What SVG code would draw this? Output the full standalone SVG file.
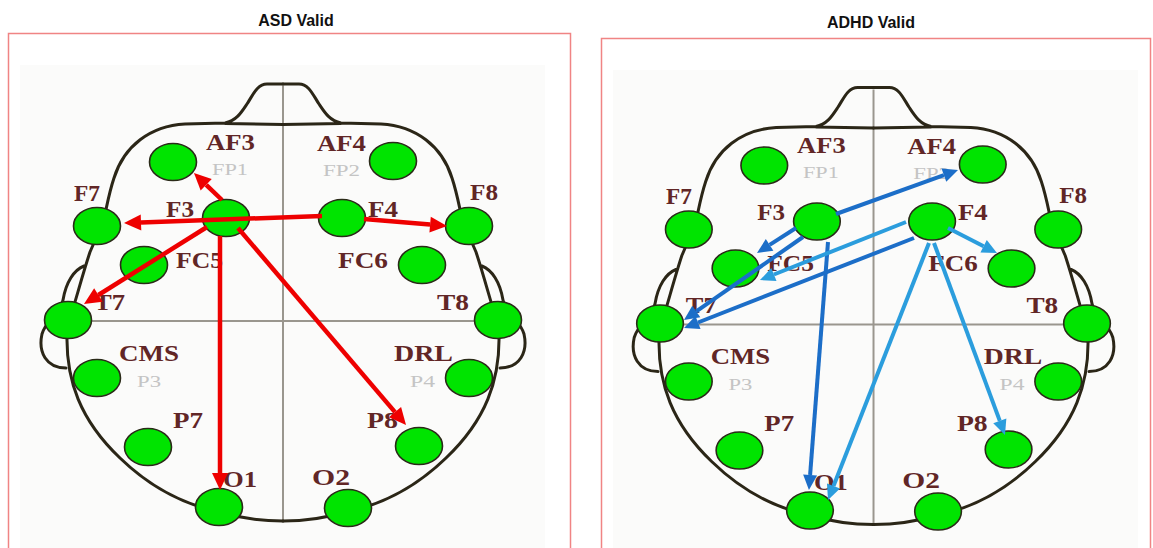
<svg xmlns="http://www.w3.org/2000/svg" xmlns:xlink="http://www.w3.org/1999/xlink" width="1153" height="548" viewBox="0 0 1153 548">
  <style>
    .title { font-family: "Liberation Sans", Arial, sans-serif; font-weight: bold; font-size: 16px; fill: #111; text-anchor: middle; }
    .frame { fill: none; stroke: #f08484; stroke-width: 1.5; }
    .paper { fill: #fbfbfa; }
    .outline { fill: none; stroke: #2b2617; stroke-width: 3; stroke-linejoin: round; stroke-linecap: round; }
    .axis { fill: none; stroke: #9a968e; stroke-width: 2; }
    .electrode { fill: #00e400; stroke: #2a2a18; stroke-width: 1.6; }
    .lbl { font-family: "Liberation Serif", "Times New Roman", serif; font-weight: bold; font-size: 23px; fill: #612626; }
    .alt { font-family: "Liberation Serif", "Times New Roman", serif; font-size: 17px; fill: #c4c4c4; }
    .red { fill: none; stroke: #ee0000; stroke-width: 4.5; }
    .dark { fill: none; stroke: #1c6ec8; stroke-width: 4; }
    .light { fill: none; stroke: #2b9ddd; stroke-width: 4; }
  </style>
  <defs>
    <marker id="head-red" viewBox="0 -9 18 18" refX="0" refY="0" markerWidth="18" markerHeight="18" markerUnits="userSpaceOnUse" orient="auto" overflow="visible">
      <path d="M0,-8 L17,0 L0,8 z" fill="#ee0000"/>
    </marker>
    <marker id="head-dark" viewBox="0 -8 16 16" refX="0" refY="0" markerWidth="16" markerHeight="16" markerUnits="userSpaceOnUse" orient="auto" overflow="visible">
      <path d="M0,-7 L15,0 L0,7 z" fill="#1c6ec8"/>
    </marker>
    <marker id="head-light" viewBox="0 -8 16 16" refX="0" refY="0" markerWidth="16" markerHeight="16" markerUnits="userSpaceOnUse" orient="auto" overflow="visible">
      <path d="M0,-7 L15,0 L0,7 z" fill="#2b9ddd"/>
    </marker>

    <!-- left half of the scalp outline (nose, crown, ear); mirrored about x=283 for the right half -->
    <path id="half-scalp" d="M283,84 L267,84 C257,84 253,95 247,104 C241,113 236,121 225,123 L185,124 C150,126 124,146 114,178 C108,196 106,212 103,222 L90,252 C84,270 78,292 72,312 L67,335 C66,380 80,420 120,458 C150,487 185,505 220,512 C240,518 260,521 283,521 M225,123.5 L283,124.5 M84,266 C74,270 66,282 63,300 C61,312 46,320 42,334 C38,352 46,368 66,368"/>

    <g id="scalp">
      <path class="axis" d="M283,86 L283,520"/>
      <path class="axis" d="M70,321 L498,321" stroke="#8c867c"/>
      <use xlink:href="#half-scalp" class="outline"/>
      <use xlink:href="#half-scalp" class="outline" transform="matrix(-1 0 0 1 566 0)"/>
    </g>
  </defs>

  <!-- panel titles and frames -->
  <text class="title" x="296" y="26">ASD Valid</text>
  <text class="title" x="871" y="28">ADHD Valid</text>
  <rect class="frame" x="8.5" y="33.5" width="562" height="530"/>
  <rect class="frame" x="601.5" y="38.5" width="549" height="530"/>
  <rect class="paper" x="20" y="65" width="525" height="483"/>
  <rect class="paper" x="613" y="70" width="525" height="478"/>

  <!-- ===== ASD panel ===== -->
  <g id="asd-panel">
    <use xlink:href="#scalp"/>
    <g id="asd-nodes">
      <g id="asd-AF3"><ellipse class="electrode" cx="173" cy="162" rx="23.5" ry="18.5"/><text class="lbl" x="206" y="150" textLength="49" lengthAdjust="spacingAndGlyphs">AF3</text><text class="alt" x="212" y="175" textLength="36" lengthAdjust="spacingAndGlyphs">FP1</text></g>
      <g id="asd-AF4"><ellipse class="electrode" cx="393" cy="161" rx="23.5" ry="18.5"/><text class="lbl" x="317" y="151" textLength="49" lengthAdjust="spacingAndGlyphs">AF4</text><text class="alt" x="323" y="176" textLength="37" lengthAdjust="spacingAndGlyphs">FP2</text></g>
      <g id="asd-F7"><ellipse class="electrode" cx="97" cy="226" rx="23.5" ry="18.5"/><text class="lbl" x="74" y="201" textLength="26" lengthAdjust="spacingAndGlyphs">F7</text></g>
      <g id="asd-F8"><ellipse class="electrode" cx="469" cy="226" rx="23.5" ry="18.5"/><text class="lbl" x="470" y="200" textLength="28" lengthAdjust="spacingAndGlyphs">F8</text></g>
      <g id="asd-F3"><ellipse class="electrode" cx="226" cy="218" rx="23.5" ry="18.5"/><text class="lbl" x="166" y="217" textLength="28" lengthAdjust="spacingAndGlyphs">F3</text></g>
      <g id="asd-F4"><ellipse class="electrode" cx="342" cy="218" rx="23.5" ry="18.5"/><text class="lbl" x="368" y="217" textLength="30" lengthAdjust="spacingAndGlyphs">F4</text></g>
      <g id="asd-FC5"><ellipse class="electrode" cx="144" cy="265" rx="23.5" ry="18.5"/><text class="lbl" x="176" y="268" textLength="47" lengthAdjust="spacingAndGlyphs">FC5</text></g>
      <g id="asd-FC6"><ellipse class="electrode" cx="422" cy="265" rx="23.5" ry="18.5"/><text class="lbl" x="338" y="268" textLength="50" lengthAdjust="spacingAndGlyphs">FC6</text></g>
      <g id="asd-T7"><text class="lbl" x="94" y="310" textLength="31" lengthAdjust="spacingAndGlyphs">T7</text><ellipse class="electrode" cx="68" cy="320" rx="23.5" ry="18.5"/></g>
      <g id="asd-T8"><text class="lbl" x="437" y="310" textLength="32" lengthAdjust="spacingAndGlyphs">T8</text><ellipse class="electrode" cx="498" cy="320" rx="23.5" ry="18.5"/></g>
      <g id="asd-CMS"><ellipse class="electrode" cx="97" cy="378" rx="23.5" ry="18.5"/><text class="lbl" x="119" y="361" textLength="60" lengthAdjust="spacingAndGlyphs">CMS</text><text class="alt" x="137" y="387" textLength="24" lengthAdjust="spacingAndGlyphs">P3</text></g>
      <g id="asd-DRL"><ellipse class="electrode" cx="469" cy="378" rx="23.5" ry="18.5"/><text class="lbl" x="394" y="361" textLength="59" lengthAdjust="spacingAndGlyphs">DRL</text><text class="alt" x="410" y="387" textLength="25" lengthAdjust="spacingAndGlyphs">P4</text></g>
      <g id="asd-P7"><ellipse class="electrode" cx="148" cy="447" rx="23.5" ry="18.5"/><text class="lbl" x="173" y="428" textLength="30" lengthAdjust="spacingAndGlyphs">P7</text></g>
      <g id="asd-P8"><ellipse class="electrode" cx="419" cy="446" rx="23.5" ry="18.5"/><text class="lbl" x="367" y="428" textLength="31" lengthAdjust="spacingAndGlyphs">P8</text></g>
      <g id="asd-O1"><text class="lbl" x="223" y="487" textLength="34" lengthAdjust="spacingAndGlyphs">O1</text><ellipse class="electrode" cx="219" cy="507" rx="23.5" ry="18.5"/></g>
      <g id="asd-O2"><text class="lbl" x="312" y="485" textLength="38" lengthAdjust="spacingAndGlyphs">O2</text><ellipse class="electrode" cx="348" cy="508" rx="23.5" ry="18.5"/></g>
    </g>
    <g id="asd-connectors">
      <path class="red" marker-end="url(#head-red)" d="M222,200 L206.2,184.8"/>
      <path class="red" marker-end="url(#head-red)" d="M322,216 L141,222.4"/>
      <path class="red" marker-end="url(#head-red)" d="M364,219 L430.1,224.6"/>
      <path class="red" marker-end="url(#head-red)" d="M207,227 L98.4,295"/>
      <path class="red" marker-end="url(#head-red)" d="M220,236 L220,473"/>
      <path class="red" marker-end="url(#head-red)" d="M238,228 L395,412.1"/>
    </g>
  </g>

  <!-- ===== ADHD panel ===== -->
  <g id="adhd-panel">
    <g transform="translate(592.5,3.5) scale(0.993,1)">
      <use xlink:href="#scalp"/>
      <g id="adhd-nodes">
        <g id="adhd-AF3"><ellipse class="electrode" cx="173" cy="162" rx="23.5" ry="18.5"/><text class="lbl" x="206" y="150" textLength="49" lengthAdjust="spacingAndGlyphs">AF3</text><text class="alt" x="212" y="175" textLength="36" lengthAdjust="spacingAndGlyphs">FP1</text></g>
        <g id="adhd-AF4"><ellipse class="electrode" cx="393" cy="161" rx="23.5" ry="18.5"/><text class="lbl" x="317" y="151" textLength="49" lengthAdjust="spacingAndGlyphs">AF4</text><text class="alt" x="323" y="176" textLength="37" lengthAdjust="spacingAndGlyphs">FP2</text></g>
        <g id="adhd-F7"><ellipse class="electrode" cx="97" cy="226" rx="23.5" ry="18.5"/><text class="lbl" x="74" y="201" textLength="26" lengthAdjust="spacingAndGlyphs">F7</text></g>
        <g id="adhd-F8"><ellipse class="electrode" cx="469" cy="226" rx="23.5" ry="18.5"/><text class="lbl" x="470" y="200" textLength="28" lengthAdjust="spacingAndGlyphs">F8</text></g>
        <g id="adhd-F3"><ellipse class="electrode" cx="226" cy="218" rx="23.5" ry="18.5"/><text class="lbl" x="166" y="217" textLength="28" lengthAdjust="spacingAndGlyphs">F3</text></g>
        <g id="adhd-F4"><ellipse class="electrode" cx="342" cy="218" rx="23.5" ry="18.5"/><text class="lbl" x="368" y="217" textLength="30" lengthAdjust="spacingAndGlyphs">F4</text></g>
        <g id="adhd-FC5"><ellipse class="electrode" cx="144" cy="265" rx="23.5" ry="18.5"/><text class="lbl" x="176" y="268" textLength="47" lengthAdjust="spacingAndGlyphs">FC5</text></g>
        <g id="adhd-FC6"><ellipse class="electrode" cx="422" cy="265" rx="23.5" ry="18.5"/><text class="lbl" x="338" y="268" textLength="50" lengthAdjust="spacingAndGlyphs">FC6</text></g>
        <g id="adhd-T7"><text class="lbl" x="94" y="310" textLength="31" lengthAdjust="spacingAndGlyphs">T7</text><ellipse class="electrode" cx="68" cy="320" rx="23.5" ry="18.5"/></g>
        <g id="adhd-T8"><text class="lbl" x="437" y="310" textLength="32" lengthAdjust="spacingAndGlyphs">T8</text><ellipse class="electrode" cx="498" cy="320" rx="23.5" ry="18.5"/></g>
        <g id="adhd-CMS"><ellipse class="electrode" cx="97" cy="378" rx="23.5" ry="18.5"/><text class="lbl" x="119" y="361" textLength="60" lengthAdjust="spacingAndGlyphs">CMS</text><text class="alt" x="137" y="387" textLength="24" lengthAdjust="spacingAndGlyphs">P3</text></g>
        <g id="adhd-DRL"><ellipse class="electrode" cx="469" cy="378" rx="23.5" ry="18.5"/><text class="lbl" x="394" y="361" textLength="59" lengthAdjust="spacingAndGlyphs">DRL</text><text class="alt" x="410" y="387" textLength="25" lengthAdjust="spacingAndGlyphs">P4</text></g>
        <g id="adhd-P7"><ellipse class="electrode" cx="148" cy="447" rx="23.5" ry="18.5"/><text class="lbl" x="173" y="428" textLength="30" lengthAdjust="spacingAndGlyphs">P7</text></g>
        <g id="adhd-P8"><ellipse class="electrode" cx="419" cy="446" rx="23.5" ry="18.5"/><text class="lbl" x="367" y="428" textLength="31" lengthAdjust="spacingAndGlyphs">P8</text></g>
        <g id="adhd-O1"><text class="lbl" x="223" y="487" textLength="34" lengthAdjust="spacingAndGlyphs">O1</text><ellipse class="electrode" cx="219" cy="507" rx="23.5" ry="18.5"/></g>
        <g id="adhd-O2"><text class="lbl" x="312" y="485" textLength="38" lengthAdjust="spacingAndGlyphs">O2</text><ellipse class="electrode" cx="348" cy="508" rx="23.5" ry="18.5"/></g>
      </g>
    </g>
    <g id="adhd-connectors">
      <path class="dark" marker-end="url(#head-dark)" d="M836,214 L943.9,175.1"/>
      <path class="dark" marker-end="url(#head-dark)" d="M796,228 L769.6,244.9"/>
      <path class="dark" marker-end="url(#head-dark)" d="M803,237 L696.3,311.4"/>
      <path class="dark" marker-end="url(#head-dark)" d="M828,242 L810.1,475"/>
      <path class="dark" marker-end="url(#head-dark)" d="M914,238 L698,322.5"/>
      <path class="light" marker-end="url(#head-light)" d="M906,222 L773.9,274.5"/>
      <path class="light" marker-end="url(#head-light)" d="M929,243 L833.5,486"/>
      <path class="light" marker-end="url(#head-light)" d="M934,243 L999.8,420.9"/>
      <path class="light" marker-end="url(#head-light)" d="M948,228 L983.6,246.2"/>
    </g>
  </g>
</svg>
